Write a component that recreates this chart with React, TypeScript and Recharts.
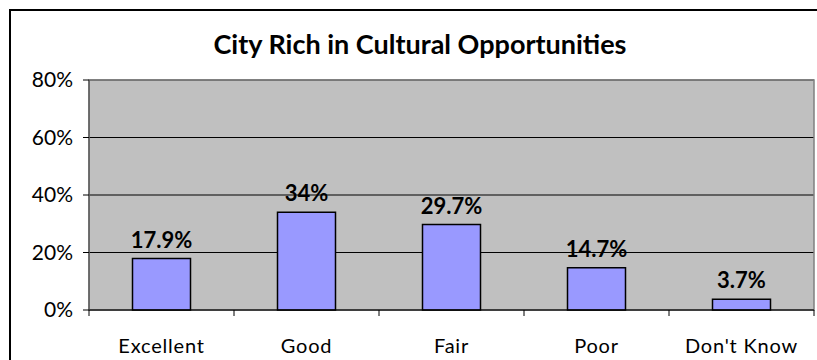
import React from 'react';
import { BarChart, Bar, XAxis, YAxis, CartesianGrid, LabelList, ReferenceArea } from 'recharts';

const categories = ['Excellent', 'Good', 'Fair', 'Poor', "Don't Know"];
const shares = [17.9, 34, 29.7, 14.7, 3.7];
const yTicks = [0, 20, 40, 60, 80];

const data = categories.map((name, i) => ({ name, value: shares[i] }));

const FONT = 'Lato, "Open Sans", sans-serif';

const CategoryTick = (props: any) => {
  const { x, y, payload, index } = props;
  const half = payload.offset ?? 72.6;
  return (
    <g>
      <line x1={x - half} y1={y - 8} x2={x - half} y2={y - 2} stroke="#000" />
      {index === categories.length - 1 && (
        <line x1={x + half} y1={y - 8} x2={x + half} y2={y - 2} stroke="#000" />
      )}
      <text x={x} y={y + 35} textAnchor="middle" fill="#000" fontSize={20} fontFamily={FONT} letterSpacing={0.8}>
        {payload.value}
      </text>
    </g>
  );
};

const App: React.FC = () => {
  return (
    <div style={{ position: 'absolute', left: 0, top: 0, width: 817, height: 360, overflow: 'hidden', background: '#fff' }}>
      <svg width={817} height={360} style={{ position: 'absolute', left: 0, top: 0 }}>
        <line x1={9} y1={10} x2={817} y2={10} stroke="#000" strokeWidth={2} />
        <line x1={10} y1={9} x2={10} y2={360} stroke="#000" strokeWidth={2} />
      </svg>
      <div
        style={{
          position: 'absolute', left: 0, top: 28, width: 840, textAlign: 'center', lineHeight: '32px',
          fontFamily: FONT, fontWeight: 700, fontSize: 27, color: '#000',
        }}
      >
        City Rich in Cultural Opportunities
      </div>
      <div style={{ position: 'absolute', left: 0, top: 0 }}>
        <BarChart
          width={817}
          height={360}
          data={data}
          margin={{ top: 80, right: 3, left: 0, bottom: 0 }}
          barCategoryGap="30%"
        >
          <CartesianGrid vertical={false} stroke="#000" fill="#C0C0C0" fillOpacity={1} />
          <ReferenceArea y1={0} y2={80} fill="none" stroke="#808080" strokeWidth={1.5} />
          <XAxis
            dataKey="name"
            axisLine={{ stroke: '#000' }}
            tickLine={false}
            tick={<CategoryTick />}
            interval={0}
            height={50}
          />
          <YAxis
            width={89}
            domain={[0, 80]}
            ticks={yTicks}
            tickFormatter={(v) => `${v}%`}
            axisLine={{ stroke: '#404040' }}
            tickLine={{ stroke: '#000' }}
            tickSize={6}
            tickMargin={10}
            tick={{ fill: '#000', fontSize: 21, fontFamily: FONT }}
          />
          <Bar dataKey="value" fill="#9999FF" stroke="#000" strokeWidth={1.5} isAnimationActive={false}>
            <LabelList
              dataKey="value"
              position="top"
              offset={11}
              formatter={(v: any) => `${v}%`}
              style={{ fill: '#000', fontSize: 22, fontWeight: 700, fontFamily: FONT }}
            />
          </Bar>
        </BarChart>
      </div>
    </div>
  );
};

export default App;
